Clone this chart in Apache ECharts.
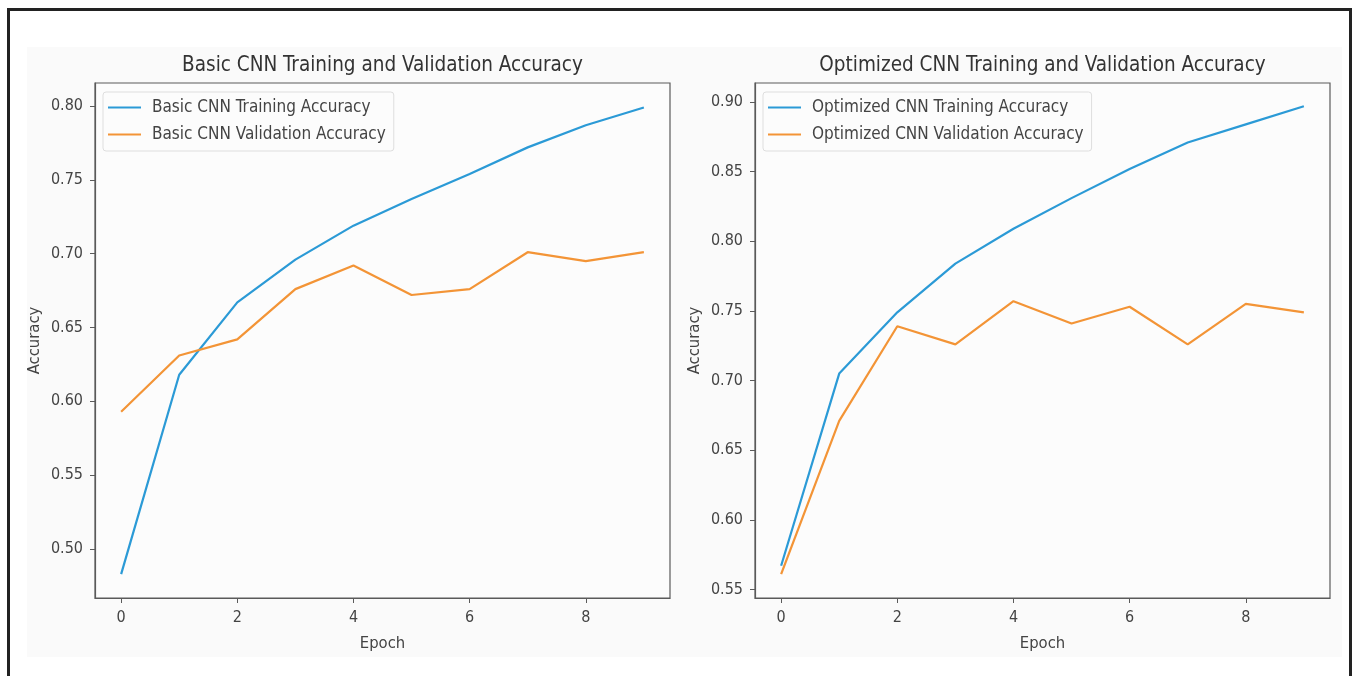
<!DOCTYPE html>
<html>
<head>
<meta charset="utf-8">
<script src="https://cdn.jsdelivr.net/npm/echarts@6/dist/echarts.min.js"></script>
<style>
html,body{margin:0;padding:0;background:#fff;width:1354px;height:676px;overflow:hidden;}
#frame{position:absolute;left:7px;top:8px;width:1339px;height:700px;border:3px solid #222;border-bottom:none;}
#panel{position:absolute;left:27px;top:47px;width:1315px;height:610px;background:#fafafa;}
#chart{position:absolute;left:0;top:0;width:1354px;height:676px;}
</style>
</head>
<body>
<div id="frame"></div>
<div id="panel"></div>
<div id="chart"></div>
<script>
const epochs = [0,1,2,3,4,5,6,7,8,9];
const basicTrain = [0.483,0.618,0.667,0.696,0.719,0.737,0.754,0.772,0.787,0.799];
const basicVal   = [0.593,0.631,0.642,0.676,0.692,0.672,0.676,0.701,0.695,0.701];
const optTrain   = [0.567,0.705,0.749,0.784,0.809,0.831,0.852,0.871,0.884,0.897];
const optVal     = [0.561,0.671,0.739,0.726,0.757,0.741,0.753,0.726,0.755,0.749];
const xTicks = [0,2,4,6,8];
const basicYTicks = [0.50,0.55,0.60,0.65,0.70,0.75,0.80];
const optYTicks = [0.55,0.60,0.65,0.70,0.75,0.80,0.85,0.90];
const titles = ['Basic CNN Training and Validation Accuracy','Optimized CNN Training and Validation Accuracy'];
const names = [['Basic CNN Training Accuracy','Basic CNN Validation Accuracy'],['Optimized CNN Training Accuracy','Optimized CNN Validation Accuracy']];

const FONT = "'DejaVu Sans Condensed','DejaVu Sans',sans-serif";
const BLUE = '#2b9ad6', ORANGE = '#f39436';
const AX = '#5a5a5a', TXT = '#444';

function pairs(arr){ return epochs.map((e,i)=>[e,arr[i]]); }

const grids = [
  {left:95, top:83, width:575, height:515},
  {left:755, top:83, width:575, height:515}
];
const yRanges = [[0.4668,0.8156],[0.5438,0.9137]];
const yTickSets = [basicYTicks, optYTicks];

const option = {
  animation:false,
  backgroundColor:'transparent',
  textStyle:{fontFamily:FONT},
  title: grids.map((g,i)=>({
    text:titles[i], left:g.left+g.width/2-5, top:50, textAlign:'center',
    textStyle:{fontFamily:FONT,fontSize:20.5,fontWeight:'normal',color:'#333'}
  })),
  legend: grids.map((g,i)=>({
    orient:'vertical', left:g.left+8, top:92,
    data:names[i],
    icon:'path://M0,0 L33,0 L33,2 L0,2 Z',
    itemWidth:33, itemHeight:2, itemGap:10,
    padding:[7,8,8,5],
    borderColor:'#dedede', borderWidth:1, borderRadius:3,
    backgroundColor:'#fcfcfc',
    textStyle:{fontFamily:FONT,fontSize:17,color:TXT,lineHeight:17,padding:[0,0,0,6]}
  })),
  grid: grids.map(g=>Object.assign({show:true,borderColor:AX,borderWidth:1.2,backgroundColor:'#fcfcfc',containLabel:false},g)),
  xAxis: grids.map((g,i)=>({
    type:'value', gridIndex:i, min:-0.45, max:9.45,
    name:'Epoch', nameLocation:'middle', nameGap:37,
    nameTextStyle:{fontFamily:FONT,fontSize:16.5,color:TXT},
    axisLine:{show:true,onZero:false,lineStyle:{color:AX,width:1.2}},
    axisTick:{show:true,length:5,lineStyle:{color:AX},customValues:xTicks},
    axisLabel:{fontFamily:FONT,fontSize:16,color:TXT,margin:12,customValues:xTicks},
    splitLine:{show:false}
  })),
  yAxis: grids.map((g,i)=>({
    type:'value', gridIndex:i, min:yRanges[i][0], max:yRanges[i][1],
    name:'Accuracy', nameLocation:'middle', nameGap:52,
    nameTextStyle:{fontFamily:FONT,fontSize:16.5,color:TXT},
    axisLine:{show:true,onZero:false,lineStyle:{color:AX,width:1.2}},
    axisTick:{show:true,length:5,lineStyle:{color:AX},customValues:yTickSets[i]},
    axisLabel:{fontFamily:FONT,fontSize:16,color:TXT,margin:12,customValues:yTickSets[i],formatter:v=>v.toFixed(2)},
    splitLine:{show:false}
  })),
  series: [
    {name:names[0][0],type:'line',xAxisIndex:0,yAxisIndex:0,data:pairs(basicTrain),symbol:'none',lineStyle:{color:BLUE,width:2.2},itemStyle:{color:BLUE}},
    {name:names[0][1],type:'line',xAxisIndex:0,yAxisIndex:0,data:pairs(basicVal),symbol:'none',lineStyle:{color:ORANGE,width:2.2},itemStyle:{color:ORANGE}},
    {name:names[1][0],type:'line',xAxisIndex:1,yAxisIndex:1,data:pairs(optTrain),symbol:'none',lineStyle:{color:BLUE,width:2.2},itemStyle:{color:BLUE}},
    {name:names[1][1],type:'line',xAxisIndex:1,yAxisIndex:1,data:pairs(optVal),symbol:'none',lineStyle:{color:ORANGE,width:2.2},itemStyle:{color:ORANGE}}
  ]
};
const chart = echarts.init(document.getElementById('chart'),null,{renderer:'canvas'});
chart.setOption(option);
</script>
</body>
</html>
